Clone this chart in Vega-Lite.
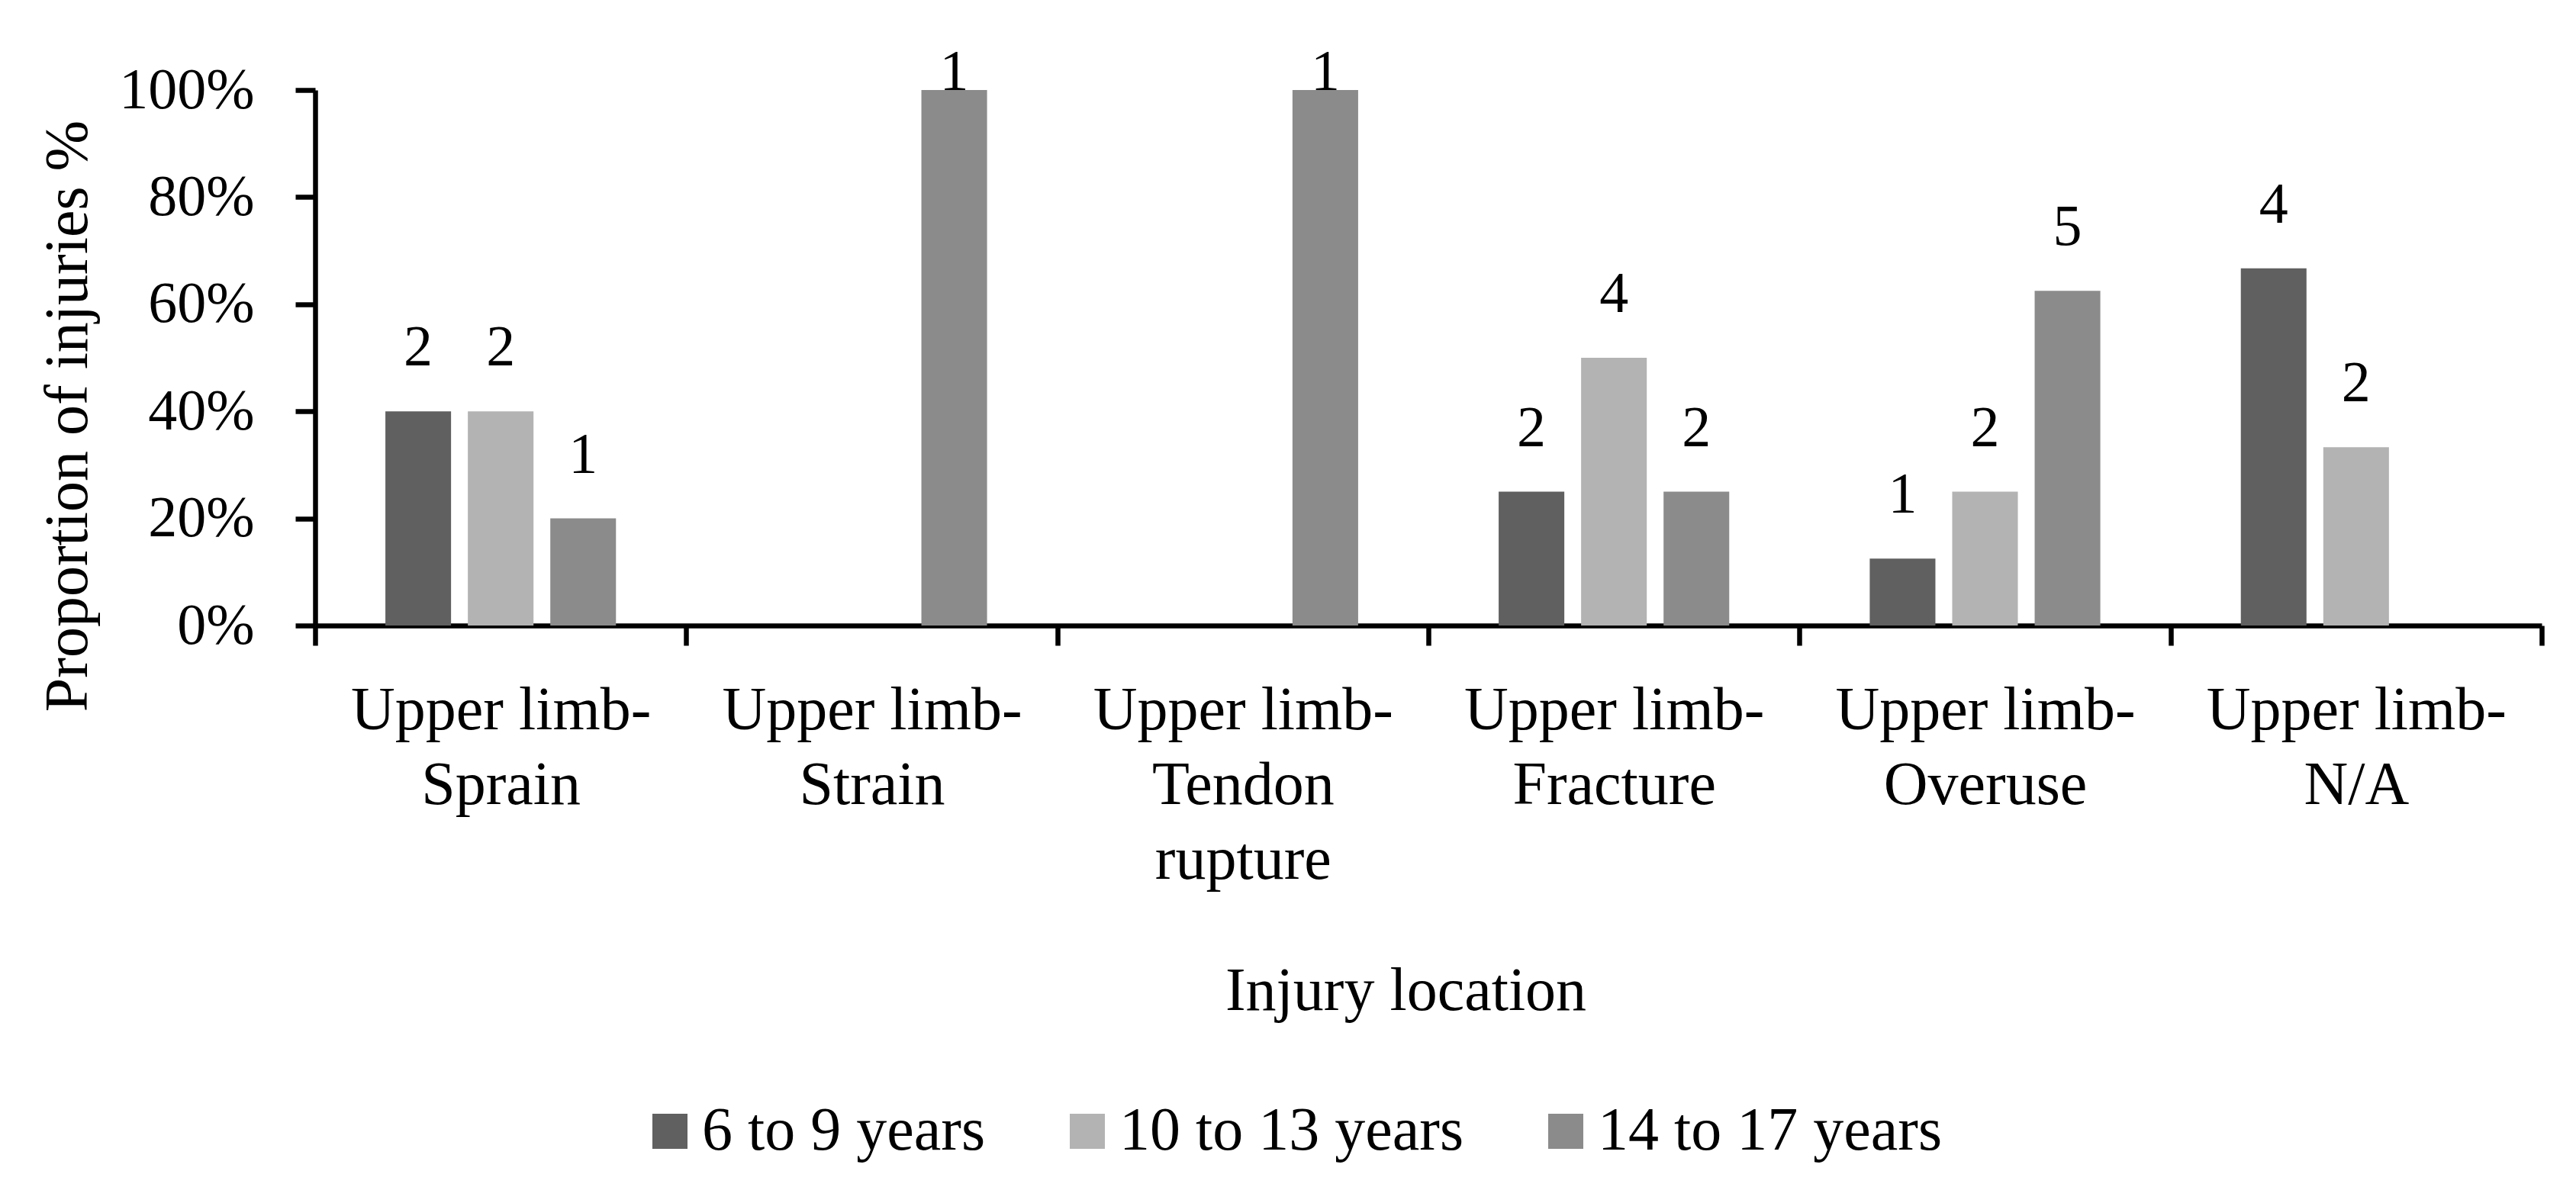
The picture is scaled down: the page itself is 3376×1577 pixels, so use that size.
{
  "$schema": "https://vega.github.io/schema/vega-lite/v6.json",
  "width": 2918,
  "height": 702,
  "autosize": {"type": "none"},
  "padding": {"left": 413, "top": 118, "right": 45, "bottom": 757},
  "background": "white",
  "config": {
    "view": {"stroke": null},
    "font": "Liberation Serif",
    "lineBreak": "\n"
  },
  "data": {
    "values": [
      {"location": "Upper limb-\nSprain", "age": "6 to 9 years", "proportion": 0.40, "n": 2},
      {"location": "Upper limb-\nSprain", "age": "10 to 13 years", "proportion": 0.40, "n": 2},
      {"location": "Upper limb-\nSprain", "age": "14 to 17 years", "proportion": 0.20, "n": 1},
      {"location": "Upper limb-\nStrain", "age": "14 to 17 years", "proportion": 1.0, "n": 1},
      {"location": "Upper limb-\nTendon\nrupture", "age": "14 to 17 years", "proportion": 1.0, "n": 1},
      {"location": "Upper limb-\nFracture", "age": "6 to 9 years", "proportion": 0.25, "n": 2},
      {"location": "Upper limb-\nFracture", "age": "10 to 13 years", "proportion": 0.50, "n": 4},
      {"location": "Upper limb-\nFracture", "age": "14 to 17 years", "proportion": 0.25, "n": 2},
      {"location": "Upper limb-\nOveruse", "age": "6 to 9 years", "proportion": 0.125, "n": 1},
      {"location": "Upper limb-\nOveruse", "age": "10 to 13 years", "proportion": 0.25, "n": 2},
      {"location": "Upper limb-\nOveruse", "age": "14 to 17 years", "proportion": 0.625, "n": 5},
      {"location": "Upper limb-\nN/A", "age": "6 to 9 years", "proportion": 0.667, "n": 4},
      {"location": "Upper limb-\nN/A", "age": "10 to 13 years", "proportion": 0.333, "n": 2}
    ]
  },
  "encoding": {
    "x": {
      "field": "location",
      "type": "nominal",
      "sort": ["Upper limb-\nSprain", "Upper limb-\nStrain", "Upper limb-\nTendon\nrupture", "Upper limb-\nFracture", "Upper limb-\nOveruse", "Upper limb-\nN/A"],
      "scale": {"paddingInner": 0, "paddingOuter": 0},
      "axis": {
        "labelAngle": 0,
        "labelFont": "Liberation Serif",
        "labelFontSize": 80,
        "labelLineHeight": 98,
        "labelColor": "black",
        "labelPadding": 46,
        "labelLimit": 1000,
        "tickBand": "extent",
        "tickSize": 26,
        "tickWidth": 6.5,
        "tickColor": "black",
        "domainColor": "black",
        "domainWidth": 6.5,
        "title": "Injury location",
        "titleFont": "Liberation Serif",
        "titleFontSize": 80,
        "titleFontWeight": "normal",
        "titleColor": "black",
        "titleX": 1429,
        "titleY": 503,
        "titleAlign": "center",
        "titleBaseline": "alphabetic"
      }
    },
    "xOffset": {
      "field": "age",
      "type": "nominal",
      "scale": {"domain": ["6 to 9 years", "10 to 13 years", "14 to 17 years"], "paddingInner": 0.2037, "paddingOuter": 0.852}
    }
  },
  "layer": [
    {
      "mark": {"type": "bar"},
      "encoding": {
        "y": {
          "field": "proportion",
          "type": "quantitative",
          "scale": {"domain": [0, 1], "nice": false},
          "axis": {
            "values": [0, 0.2, 0.4, 0.6, 0.8, 1.0],
            "format": ".0%",
            "grid": false,
            "labelFont": "Liberation Serif",
            "labelFontSize": 76,
            "labelColor": "black",
            "labelPadding": 54,
            "tickSize": 26,
            "tickWidth": 6.5,
            "tickColor": "black",
            "domainColor": "black",
            "domainWidth": 6.5,
            "title": "Proportion of injuries %",
            "titleFont": "Liberation Serif",
            "titleFontSize": 80,
            "titleFontWeight": "normal",
            "titleColor": "black",
            "titleAngle": 270,
            "titleX": -300,
            "titleY": 427,
            "titleAlign": "center",
            "titleBaseline": "alphabetic"
          }
        },
        "color": {
          "field": "age",
          "type": "nominal",
          "scale": {"domain": ["6 to 9 years", "10 to 13 years", "14 to 17 years"], "range": ["#606060", "#b3b3b3", "#8b8b8b"]},
          "legend": {
            "title": null,
            "orient": "none",
            "direction": "horizontal",
            "legendX": 425,
            "legendY": 1325,
            "symbolType": "square",
            "symbolSize": 2116,
            "symbolStrokeWidth": 0,
            "labelFont": "Liberation Serif",
            "labelFontSize": 80,
            "labelColor": "black",
            "labelOffset": 2,
            "labelLimit": 1000,
            "columnPadding": 93
          }
        }
      }
    },
    {
      "transform": [{"calculate": "min(datum.proportion, 0.9145)", "as": "labelPos"}],
      "mark": {"type": "text", "baseline": "alphabetic", "dy": -60, "fontSize": 76, "font": "Liberation Serif", "color": "black"},
      "encoding": {
        "y": {"field": "labelPos", "type": "quantitative"},
        "text": {"field": "n", "type": "quantitative"}
      }
    }
  ]
}
